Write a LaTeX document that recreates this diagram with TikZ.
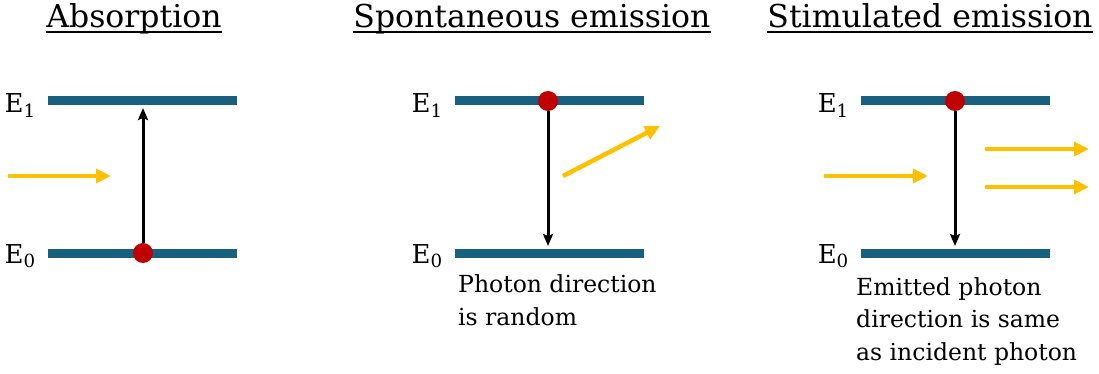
\documentclass[tikz,border=0pt]{standalone}
\usepackage{fontspec}
\setmainfont{DejaVu Serif}
\usetikzlibrary{arrows.meta}
\definecolor{levelblue}{HTML}{18607F}
\definecolor{photonyellow}{HTML}{FFC000}
\definecolor{electronred}{HTML}{C00000}
\tikzset{
	level/.style={line width=9pt,levelblue},
	photonarrow/.style={line width=4.5pt,photonyellow,-{Triangle[length=15pt,width=14pt]}},
	trans/.style={line width=3pt,black,-{Stealth[length=12pt,width=10pt,inset=2pt]}},
	elec/.style={circle,fill=electronred,inner sep=0pt,minimum size=20pt},
	title/.style={inner sep=0pt,anchor=base,font=\fontsize{31.5}{38}\selectfont},
	uline/.style={line width=1.8pt},
	lbl/.style={inner sep=0pt,anchor=base east,font=\fontsize{26}{30}\selectfont},
	note/.style={inner sep=0pt,anchor=base west,align=left,font=\fontsize{23.5}{32.5}\selectfont}
}
\begin{document}
\begin{tikzpicture}[x=1pt,y=-1pt,line join=round]
	\useasboundingbox (0,0) rectangle (1099,374);
	% titles
	\node[title] (tabs) at (134,28) {Absorption};
	\node[title] (tspo) at (532,28) {Spontaneous emission};
	\node[title] (tsti) at (930,28) {Stimulated emission};
	\foreach \t in {tabs,tspo,tsti}
	{\draw[uline] ([yshift=-4pt]\t.base west)--([yshift=-4pt]\t.base east);}
	% energy levels
	\foreach \p/\x in {a/48,b/455,c/861}{
		\path (\x,101) coordinate (up\p) ++(189,0) coordinate (upe\p)
		(\x,253) coordinate (lo\p) ++(189,0) coordinate (loe\p);
		\draw[level] (up\p)--(upe\p) (lo\p)--(loe\p);
		\node[lbl] (Eup\p) at ([xshift=-12pt,yshift=-12pt]up\p) {E\textsubscript{1}};
		\node[lbl] (Elo\p) at ([xshift=-12pt,yshift=-10pt]lo\p) {E\textsubscript{0}};
	}
	% electrons and transitions
	\node[elec] (ea) at (143,253) {};
	\node[elec] (eb) at (548,101) {};
	\node[elec] (ec) at (955,101) {};
	\coordinate (ha) at (143,108);
	\coordinate (hb) at (548,246);
	\coordinate (hc) at (955,246);
	\draw[trans] (ea)--(ha);
	\draw[trans] (eb)--(hb);
	\draw[trans] (ec)--(hc);
	% photons
	\path (8,176) coordinate (pa1) (111,176) coordinate (pa2)
	(563,176) coordinate (pb1) (660,126) coordinate (pb2)
	(824,176) coordinate (pc1) (928,176) coordinate (pc2)
	(985,149) coordinate (pd1) (1089,149) coordinate (pd2)
	(985,187) coordinate (pe1) (1089,187) coordinate (pe2);
	\foreach \q in {a,b,c,d,e}{\draw[photonarrow] (p\q1)--(p\q2);}
	% notes (base = last line)
	\node[note] (nspo) at (458,325) {Photon direction\\is random};
	\node[note] (nsti) at (856,360) {Emitted photon\\direction is same\\as incident photon};
\end{tikzpicture}
\end{document}
